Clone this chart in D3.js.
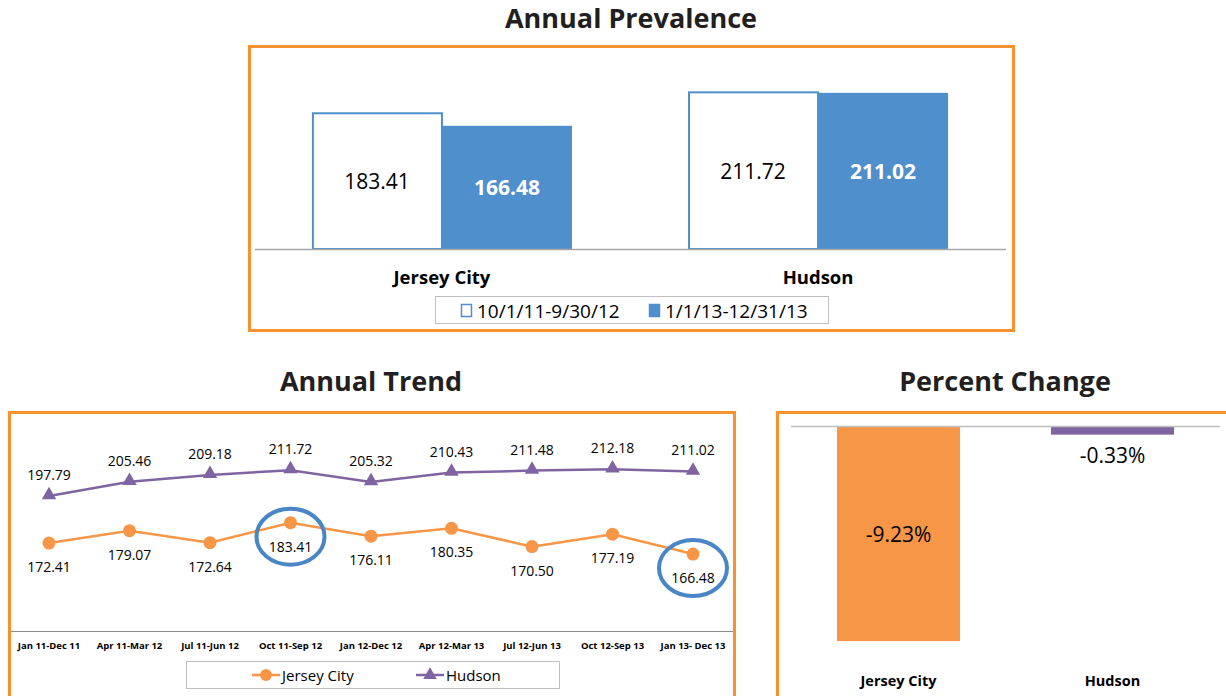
<!DOCTYPE html>
<html>
<head>
<meta charset="utf-8">
<script src="https://cdn.jsdelivr.net/npm/d3@7"></script>
<style>
  body { margin: 0; background: #fff; }
  svg { display: block; font-family: "Open Sans", "Noto Sans", sans-serif; }
</style>
</head>
<body>
<div id="chart"></div>
<script>
// Annual prevalence (top panel)
const prevCategories = ["Jersey City", "Hudson"];
const prevSeries = ["10/1/11-9/30/12", "1/1/13-12/31/13"];
const prevValues = [
  [183.41, 166.48],
  [211.72, 211.02],
];

// Annual trend (bottom left)
const trendPeriods = [
  "Jan 11-Dec 11", "Apr 11-Mar 12", "Jul 11-Jun 12", "Oct 11-Sep 12",
  "Jan 12-Dec 12", "Apr 12-Mar 13", "Jul 12-Jun 13", "Oct 12-Sep 13",
  "Jan 13- Dec 13",
];
const trendJersey = [172.41, 179.07, 172.64, 183.41, 176.11, 180.35, 170.50, 177.19, 166.48];
const trendHudson = [197.79, 205.46, 209.18, 211.72, 205.32, 210.43, 211.48, 212.18, 211.02];
const highlighted = [3, 8]; // circled Jersey City points

// Percent change (bottom right)
const changeCategories = ["Jersey City", "Hudson"];
const changeValues = [-9.23, -0.33];

const ORANGE = "#F7922E";
const JC_COLOR = "#F79646";
const HUD_COLOR = "#8064A2";
const BLUE = "#4F8FCC";

const svg = d3.select("#chart")
  .append("svg")
  .attr("width", 1226)
  .attr("height", 696);

const title = (x, y, text) => {
  svg.append("text")
    .attr("x", x)
    .attr("y", y)
    .attr("text-anchor", "middle")
    .style("font-size", "27px")
    .style("font-weight", "bold")
    .style("fill", "#231F20")
    .text(text);
};

// ---------- Annual Prevalence ----------
title(631, 28, "Annual Prevalence");
svg.append("rect")
  .attr("x", 249.5).attr("y", 46.5)
  .attr("width", 764).attr("height", 284)
  .attr("fill", "none").attr("stroke", ORANGE).attr("stroke-width", 3);

const px0 = d3.scaleBand().domain(prevCategories).range([254, 1006]).paddingInner(0.3085).paddingOuter(0.154);
const px1 = d3.scaleBand().domain(prevSeries).range([0, px0.bandwidth()]);
const py = d3.scaleLinear().domain([0, 250]).range([249, 64]);

const groups = svg.selectAll(".prev-group")
  .data(prevCategories)
  .enter()
  .append("g")
  .attr("transform", (d) => `translate(${px0(d)},0)`);

groups.selectAll("rect")
  .data((d, i) => prevSeries.map((s, j) => ({ s, v: prevValues[i][j], j })))
  .enter()
  .append("rect")
  .attr("x", (d) => px1(d.s) + (d.j === 0 ? 1 : 0))
  .attr("y", (d) => py(d.v))
  .attr("width", (d) => px1.bandwidth() - (d.j === 0 ? 1 : 0))
  .attr("height", (d) => py(0) - py(d.v))
  .attr("fill", (d) => (d.j === 0 ? "#fff" : BLUE))
  .attr("stroke", (d) => (d.j === 0 ? BLUE : "none"))
  .attr("stroke-width", 2);

groups.selectAll("text")
  .data((d, i) => prevSeries.map((s, j) => ({ s, v: prevValues[i][j], j })))
  .enter()
  .append("text")
  .attr("x", (d) => px1(d.s) + px1.bandwidth() / 2)
  .attr("y", (d) => (py(d.v) + py(0)) / 2 + 8)
  .attr("text-anchor", "middle")
  .style("font-size", "21px")
  .style("font-weight", (d) => (d.j === 0 ? "normal" : "bold"))
  .style("fill", (d) => (d.j === 0 ? "#000" : "#fff"))
  .text((d) => d.v.toFixed(2));

svg.append("line")
  .attr("x1", 255).attr("x2", 1006)
  .attr("y1", 249.5).attr("y2", 249.5)
  .attr("stroke", "#A6A6A6").attr("stroke-width", 1.5);

svg.selectAll(".prev-cat")
  .data(prevCategories)
  .enter()
  .append("text")
  .attr("x", (d) => px0(d) + px0.bandwidth() / 2)
  .attr("y", 284)
  .attr("text-anchor", "middle")
  .style("font-size", "18.5px")
  .style("font-weight", "bold")
  .text((d) => d);

// legend
svg.append("rect")
  .attr("x", 435.5).attr("y", 296.5).attr("width", 393).attr("height", 27)
  .attr("fill", "#fff").attr("stroke", "#BFBFBF");
const prevLegend = svg.selectAll(".prev-legend")
  .data(prevSeries)
  .enter()
  .append("g")
  .attr("transform", (d, i) => `translate(${i === 0 ? 461 : 649},304)`);
prevLegend.append("rect")
  .attr("x", 0.5).attr("y", 0.5).attr("width", 10).attr("height", 12)
  .attr("fill", (d, i) => (i === 0 ? "#fff" : BLUE))
  .attr("stroke", BLUE).attr("stroke-width", 1.5);
prevLegend.append("text")
  .attr("x", 16).attr("y", 13.5)
  .style("font-size", "19px")
  .text((d) => d);

// ---------- Annual Trend ----------
title(371, 391, "Annual Trend");
svg.append("rect")
  .attr("x", 9.5).attr("y", 412.5)
  .attr("width", 725).attr("height", 300)
  .attr("fill", "none").attr("stroke", ORANGE).attr("stroke-width", 3);

const tx = d3.scalePoint().domain(trendPeriods).range([49, 693]);
const ty = d3.scaleLinear().domain([125, 235]).range([631, 427]);

svg.append("line")
  .attr("x1", 11).attr("x2", 733)
  .attr("y1", 631.5).attr("y2", 631.5)
  .attr("stroke", "#8C8C8C").attr("stroke-width", 1.2);

svg.selectAll(".trend-cat")
  .data(trendPeriods)
  .enter()
  .append("text")
  .attr("x", (d) => tx(d))
  .attr("y", 649)
  .attr("text-anchor", "middle")
  .style("font-size", "9.5px")
  .style("font-weight", "bold")
  .text((d) => d);

const line = d3.line()
  .x((d, i) => tx(trendPeriods[i]))
  .y((d) => ty(d));

svg.append("path")
  .datum(trendHudson)
  .attr("d", line)
  .attr("fill", "none").attr("stroke", HUD_COLOR).attr("stroke-width", 2.5);
svg.append("path")
  .datum(trendJersey)
  .attr("d", line)
  .attr("fill", "none").attr("stroke", JC_COLOR).attr("stroke-width", 2.5);

const triangle = d3.symbol().type(d3.symbolTriangle).size(90);

svg.selectAll(".hud-pt")
  .data(trendHudson)
  .enter()
  .append("path")
  .attr("d", triangle)
  .attr("transform", (d, i) => `translate(${tx(trendPeriods[i])},${ty(d) - 1})`)
  .attr("fill", HUD_COLOR);

svg.selectAll(".jc-pt")
  .data(trendJersey)
  .enter()
  .append("circle")
  .attr("cx", (d, i) => tx(trendPeriods[i]))
  .attr("cy", (d) => ty(d))
  .attr("r", 6.5)
  .attr("fill", JC_COLOR);

svg.selectAll(".hud-lbl")
  .data(trendHudson)
  .enter()
  .append("text")
  .attr("x", (d, i) => tx(trendPeriods[i]))
  .attr("y", (d) => ty(d) - 16)
  .attr("text-anchor", "middle")
  .style("font-size", "14px")
  .text((d) => d.toFixed(2));

svg.selectAll(".jc-lbl")
  .data(trendJersey)
  .enter()
  .append("text")
  .attr("x", (d, i) => tx(trendPeriods[i]))
  .attr("y", (d) => ty(d) + 29)
  .attr("text-anchor", "middle")
  .style("font-size", "14px")
  .text((d) => d.toFixed(2));

svg.selectAll(".ring")
  .data(highlighted)
  .enter()
  .append("ellipse")
  .attr("cx", (d) => tx(trendPeriods[d]))
  .attr("cy", (d) => ty(trendJersey[d]) + 14)
  .attr("rx", 34)
  .attr("ry", 28)
  .attr("fill", "none")
  .attr("stroke", "#4A86C5")
  .attr("stroke-width", 4);

// legend
svg.append("rect")
  .attr("x", 186.5).attr("y", 661.5).attr("width", 373).attr("height", 27)
  .attr("fill", "#fff").attr("stroke", "#BFBFBF");
const trendLegend = svg.selectAll(".trend-legend")
  .data(["Jersey City", "Hudson"])
  .enter()
  .append("g")
  .attr("transform", (d, i) => `translate(${i === 0 ? 252 : 416},675)`);
trendLegend.append("line")
  .attr("x1", 0).attr("x2", 28)
  .attr("stroke", (d, i) => (i === 0 ? JC_COLOR : HUD_COLOR))
  .attr("stroke-width", 2.5);
trendLegend.append("path")
  .attr("d", (d, i) =>
    i === 0
      ? d3.symbol().type(d3.symbolCircle).size(110)()
      : d3.symbol().type(d3.symbolTriangle).size(80)()
  )
  .attr("transform", "translate(14,0)")
  .attr("fill", (d, i) => (i === 0 ? JC_COLOR : HUD_COLOR));
trendLegend.append("text")
  .attr("x", 30).attr("y", 6)
  .style("font-size", "15px")
  .text((d) => d);

// ---------- Percent Change ----------
title(1005, 391, "Percent Change");
svg.append("rect")
  .attr("x", 777.5).attr("y", 412.5)
  .attr("width", 460).attr("height", 300)
  .attr("fill", "none").attr("stroke", ORANGE).attr("stroke-width", 3);

const cx = d3.scaleBand().domain(changeCategories).range([791, 1220]).paddingInner(0.425).paddingOuter(0.215);
const cy = d3.scaleLinear().domain([0, -10]).range([427, 659]);

svg.selectAll(".chg-bar")
  .data(changeValues)
  .enter()
  .append("rect")
  .attr("x", (d, i) => cx(changeCategories[i]))
  .attr("y", cy(0))
  .attr("width", cx.bandwidth())
  .attr("height", (d) => cy(d) - cy(0))
  .attr("fill", (d, i) => (i === 0 ? JC_COLOR : HUD_COLOR));

svg.append("line")
  .attr("x1", 791).attr("x2", 1220)
  .attr("y1", 426.5).attr("y2", 426.5)
  .attr("stroke", "#BFBFBF").attr("stroke-width", 1.5);

svg.selectAll(".chg-lbl")
  .data(changeValues)
  .enter()
  .append("text")
  .attr("x", (d, i) => cx(changeCategories[i]) + cx.bandwidth() / 2)
  .attr("y", (d, i) => (i === 0 ? (cy(0) + cy(d)) / 2 + 8 : cy(d) + 28))
  .attr("text-anchor", "middle")
  .style("font-size", "21px")
  .text((d) => `${d.toFixed(2)}%`);

svg.selectAll(".chg-cat")
  .data(changeCategories)
  .enter()
  .append("text")
  .attr("x", (d) => cx(d) + cx.bandwidth() / 2)
  .attr("y", 686)
  .attr("text-anchor", "middle")
  .style("font-size", "14.5px")
  .style("font-weight", "bold")
  .text((d) => d);
</script>
</body>
</html>
